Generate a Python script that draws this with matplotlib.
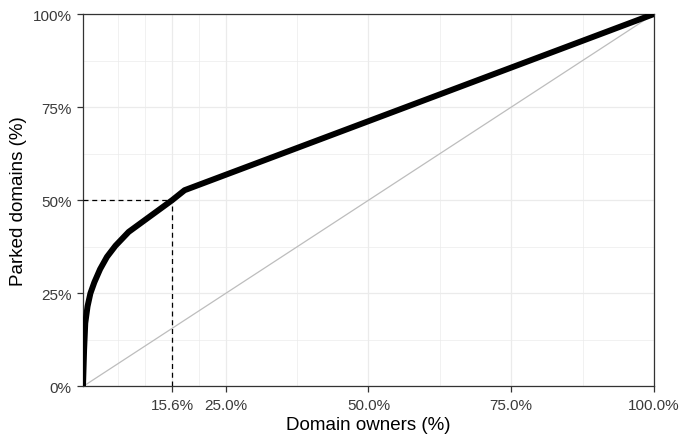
import matplotlib
matplotlib.use('Agg')
import matplotlib.pyplot as plt

# cumulative share of parked domains vs share of domain owners
owners = [0.0, 0.002, 0.004, 0.008, 0.013, 0.02, 0.03, 0.042, 0.057, 0.08, 0.156, 0.178, 1.0]
parked = [0.0, 0.10, 0.17, 0.215, 0.25, 0.28, 0.315, 0.348, 0.378, 0.415, 0.50, 0.527, 1.0]

cut_x = 0.156
cut_y = 0.5

x_breaks = [0.156, 0.25, 0.5, 0.75, 1.0]
x_labels = ['15.6%', '25.0%', '50.0%', '75.0%', '100.0%']
x_minor = [0.062, 0.109, 0.203, 0.375, 0.625, 0.875]
y_breaks = [0, 0.25, 0.5, 0.75, 1.0]
y_labels = ['0%', '25%', '50%', '75%', '100%']
y_minor = [0.125, 0.375, 0.625, 0.875]

plt.rcParams['font.family'] = ['Liberation Sans', 'DejaVu Sans']

fig = plt.figure(figsize=(6.92, 4.35), dpi=100)
ax = fig.add_axes([0.1199, 0.1092, 0.8251, 0.8563])

# grid like theme_bw
for v in x_minor:
    ax.axvline(v, color='#ebebeb', lw=0.5, zorder=0)
for v in y_minor:
    ax.axhline(v, color='#ebebeb', lw=0.5, zorder=0)
for v in x_breaks:
    ax.axvline(v, color='#ebebeb', lw=0.9, zorder=0)
for v in y_breaks:
    ax.axhline(v, color='#ebebeb', lw=0.9, zorder=0)

ax.plot([0, 1], [0, 1], color='#bdbdbd', lw=0.9, zorder=2)
ax.plot([0, cut_x], [cut_y, cut_y], color='black', lw=0.9, ls=(0, (4, 3)), zorder=3)
ax.plot([cut_x, cut_x], [0, cut_y], color='black', lw=0.9, ls=(0, (4, 3)), zorder=3)
ax.plot(owners, parked, color='black', lw=4.3, solid_joinstyle='round', zorder=4)

ax.set_xlim(0, 1)
ax.set_ylim(0, 1)
ax.set_xticks(x_breaks)
ax.set_xticklabels(x_labels)
ax.set_yticks(y_breaks)
ax.set_yticklabels(y_labels)
ax.tick_params(axis='both', length=4.5, width=0.9, color='#333333',
               labelcolor='#3a3a3a', labelsize=11, pad=3.5)

for s in ax.spines.values():
    s.set_color('#333333')
    s.set_linewidth(0.9)

ax.set_xlabel('Domain owners (%)', fontsize=13.5, labelpad=3)
ax.set_ylabel('Parked domains (%)', fontsize=13.5, labelpad=4)

fig.savefig('out.png', dpi=100)
